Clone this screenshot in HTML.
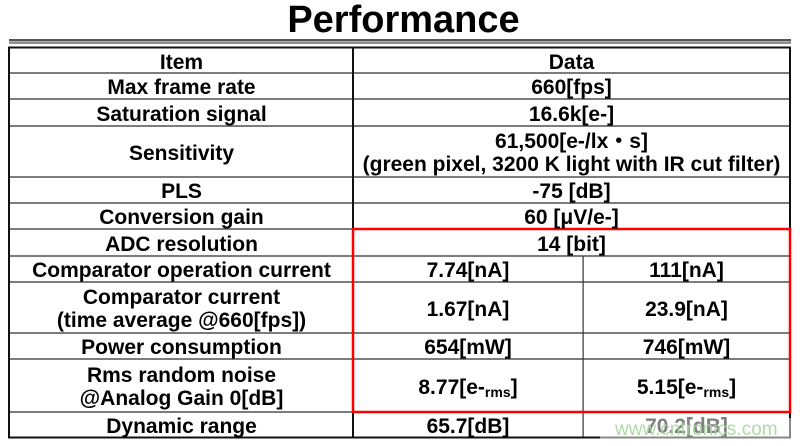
<!DOCTYPE html>
<html><head><meta charset="utf-8">
<style>
html,body{margin:0;padding:0;background:#fff;}
body{width:800px;height:446px;position:relative;overflow:hidden;font-family:"Liberation Sans","Noto Sans CJK JP",Arial,sans-serif;color:#000;}
.t{position:absolute;margin-top:1.5px;font-weight:bold;font-size:21px;line-height:23px;display:flex;align-items:center;justify-content:center;text-align:center;white-space:nowrap;}
.title{position:absolute;left:0;top:1px;width:807px;text-align:center;font-weight:bold;font-size:38px;line-height:38px;}
sub{font-size:14px;vertical-align:-3px;line-height:0;}
svg{position:absolute;left:0;top:0;}
</style></head><body>
<div class="title">Performance</div>
<svg width="800" height="446">
  <rect x="9" y="39" width="782" height="2.5" fill="#555"/>
  <rect x="9" y="42.5" width="782" height="1" fill="#222"/>
  <g fill="#444">
    <rect x="9" y="72.3" width="781" height="1.4"/>
    <rect x="9" y="98.3" width="781" height="1.4"/>
    <rect x="9" y="125.3" width="781" height="1.4"/>
    <rect x="9" y="176.3" width="781" height="1.4"/>
    <rect x="9" y="202.3" width="781" height="1.4"/>
    <rect x="9" y="228.3" width="781" height="1.4"/>
    <rect x="9" y="255.3" width="781" height="1.4"/>
    <rect x="9" y="281.3" width="781" height="1.4"/>
    <rect x="9" y="332.3" width="781" height="1.4"/>
    <rect x="9" y="358.3" width="781" height="1.4"/>
    <rect x="9" y="411.3" width="781" height="1.4"/>
  </g>
  <rect x="582.5" y="256" width="1.2" height="181" fill="#333"/>
  <rect x="352" y="47" width="2" height="391" fill="#111"/>
  <rect x="9" y="47.5" width="781" height="390" fill="none" stroke="#111" stroke-width="2"/>
  <rect x="353" y="229" width="437" height="183" fill="none" stroke="#f00" stroke-width="2.5"/>
</svg>

<div class="t" style="left:10px;top:48px;width:343px;height:25px;">Item</div>
<div class="t" style="left:353px;top:48px;width:437px;height:25px;">Data</div>

<div class="t" style="left:10px;top:73px;width:343px;height:26px;">Max frame rate</div>
<div class="t" style="left:353px;top:73px;width:437px;height:26px;">660[fps]</div>

<div class="t" style="left:10px;top:99px;width:343px;height:27px;">Saturation signal</div>
<div class="t" style="left:353px;top:99px;width:437px;height:27px;">16.6k[e-]</div>

<div class="t" style="left:10px;top:126px;width:343px;height:51px;">Sensitivity</div>
<div class="t" style="left:353px;top:126px;width:437px;height:51px;">61,500[e-/lx・s]<br>(green pixel, 3200 K light with IR cut filter)</div>

<div class="t" style="left:10px;top:177px;width:343px;height:26px;">PLS</div>
<div class="t" style="left:353px;top:177px;width:437px;height:26px;">-75 [dB]</div>

<div class="t" style="left:10px;top:203px;width:343px;height:26px;">Conversion gain</div>
<div class="t" style="left:353px;top:203px;width:437px;height:26px;">60 [μV/e-]</div>

<div class="t" style="left:10px;top:229px;width:343px;height:27px;">ADC resolution</div>
<div class="t" style="left:353px;top:229px;width:437px;height:27px;">14 [bit]</div>

<div class="t" style="left:10px;top:256px;width:343px;height:26px;">Comparator operation current</div>
<div class="t" style="left:353px;top:256px;width:230px;height:26px;">7.74[nA]</div>
<div class="t" style="left:583px;top:256px;width:207px;height:26px;">111[nA]</div>

<div class="t" style="left:10px;top:282px;width:343px;height:51px;">Comparator current<br>(time average @660[fps])</div>
<div class="t" style="left:353px;top:282px;width:230px;height:51px;">1.67[nA]</div>
<div class="t" style="left:583px;top:282px;width:207px;height:51px;">23.9[nA]</div>

<div class="t" style="left:10px;top:333px;width:343px;height:26px;">Power consumption</div>
<div class="t" style="left:353px;top:333px;width:230px;height:26px;">654[mW]</div>
<div class="t" style="left:583px;top:333px;width:207px;height:26px;">746[mW]</div>

<div class="t" style="left:10px;top:359px;width:343px;height:53px;">Rms random noise<br>@Analog Gain 0[dB]</div>
<div class="t" style="left:353px;top:359px;width:230px;height:53px;"><span>8.77[e-<sub>rms</sub>]</span></div>
<div class="t" style="left:583px;top:359px;width:207px;height:53px;"><span>5.15[e-<sub>rms</sub>]</span></div>

<div class="t" style="left:10px;top:412px;width:343px;height:25px;">Dynamic range</div>
<div class="t" style="left:353px;top:412px;width:230px;height:25px;">65.7[dB]</div>
<div class="t" style="left:583px;top:412px;width:207px;height:25px;">70.2[dB]</div>

<div style="position:absolute;left:600px;top:418px;width:200px;height:28px;background:rgba(255,255,255,0.5);"></div>
<div style="position:absolute;left:615px;top:420px;font-size:19px;line-height:20px;color:#a6d89c;font-family:'Liberation Sans',sans-serif;opacity:0.9;">www.cntronics.com</div>
</body></html>
